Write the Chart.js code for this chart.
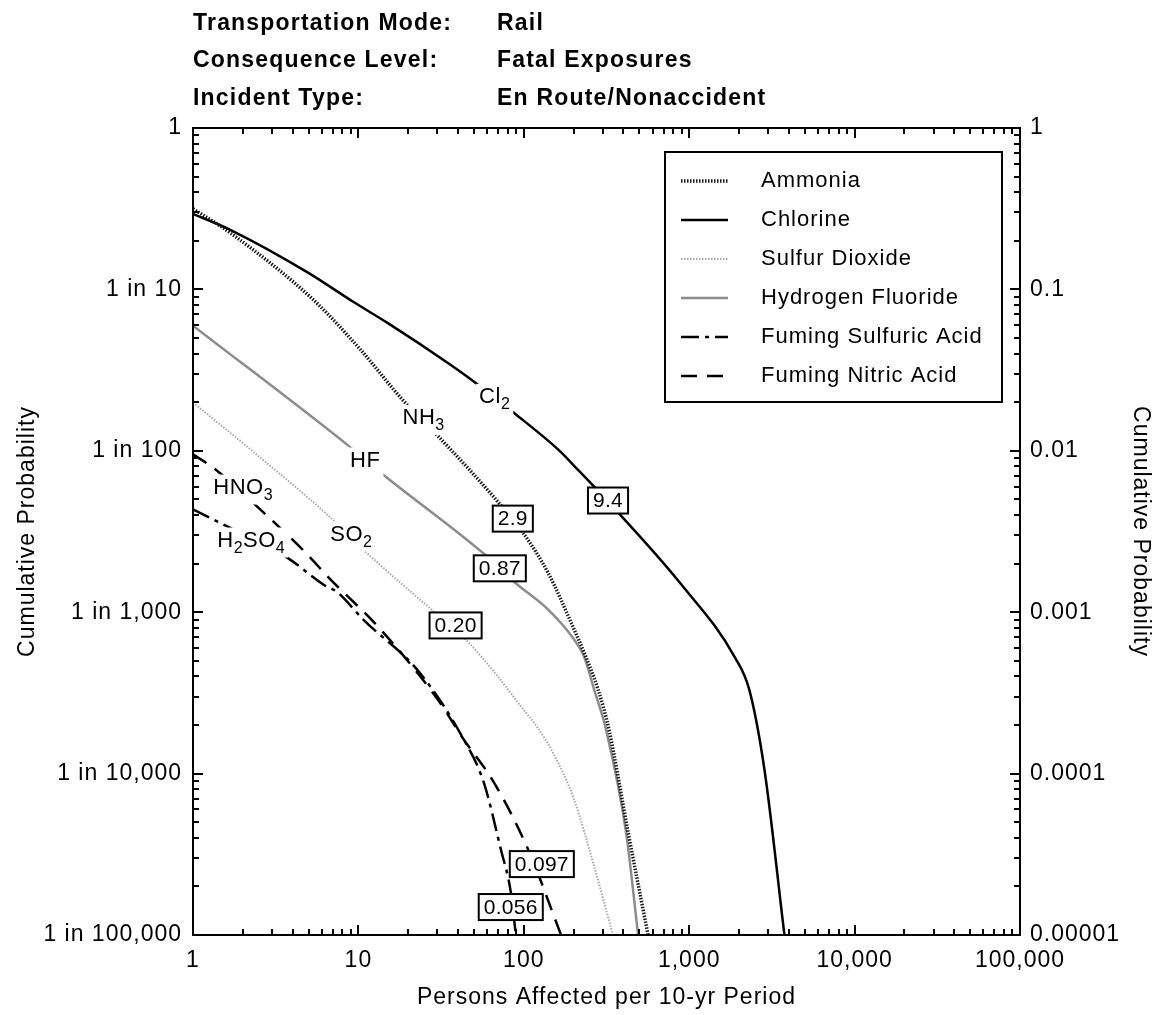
<!DOCTYPE html>
<html>
<head>
<meta charset="utf-8">
<title>Rail - Fatal Exposures</title>
<script src="https://cdn.jsdelivr.net/npm/chart.js@4.4.0/dist/chart.umd.min.js"></script>
<style>
  body { margin: 0; background: #fff; }
  .wrap { position: relative; width: 1160px; height: 1015px; }
  .head { position: absolute; font: bold 23px "Liberation Sans", Arial, sans-serif; color: #000; line-height: 26px; white-space: nowrap; letter-spacing: 1.2px; }
</style>
</head>
<body>
<div class="wrap">
  <canvas id="myChart" width="1160" height="1015"></canvas>
  <div class="head" style="left:193px;top:9px">Transportation Mode:</div>
  <div class="head" style="left:497px;top:9px">Rail</div>
  <div class="head" style="left:193px;top:46px">Consequence Level:</div>
  <div class="head" style="left:497px;top:46px">Fatal Exposures</div>
  <div class="head" style="left:193px;top:84px">Incident Type:</div>
  <div class="head" style="left:497px;top:84px">En Route/Nonaccident</div>
</div>
<script>
// persons affected (x) and cumulative probability (y) for each material
const ammoniaX = [1, 1.68, 5.34, 10.3, 18.5, 30.5, 69.5, 98.6, 140, 193, 231, 281, 327, 427, 564];
const ammoniaP = [0.316, 0.224, 0.0862, 0.0423, 0.0207, 0.01225, 0.00485, 0.00312, 0.00176, 8.65e-4, 5.64e-4, 3.33e-4, 1.88e-4, 4.34e-5, 1e-5];

const chlorineX = [1, 1.68, 4.9, 9.3, 15, 34.6, 51, 87, 161, 212, 323, 894, 1900, 2310, 2850, 3765];
const chlorineP = [0.294, 0.234, 0.128, 0.0838, 0.062, 0.0351, 0.0264, 0.0172, 0.0102, 0.00765, 0.00485, 0.00149, 5.2e-4, 3.3e-4, 1.06e-4, 1e-5];

const so2X = [1, 2.15, 6.77, 11, 28.5, 43.3, 69.6, 96, 118, 150, 201, 266, 346];
const so2P = [0.0199, 0.0105, 0.00386, 0.00238, 0.00101, 6.98e-4, 4.0e-4, 2.61e-4, 2.0e-4, 1.35e-4, 6.95e-5, 2.67e-5, 1e-5];

const hfX = [1, 8.95, 13.6, 70.5, 87, 140, 201, 231, 266, 314, 415, 491];
const hfP = [0.0596, 0.0105, 0.00733, 0.00192, 0.00155, 0.00104, 6.79e-4, 5.33e-4, 3.33e-4, 1.88e-4, 4.34e-5, 1e-5];

const sulfuricX = [1, 1.61, 3.71, 6.1, 7.46, 10.7, 23.1, 43.3, 57.2, 72.6, 83.4, 89.5];
const sulfuricP = [0.00433, 0.0034, 0.00218, 0.00149, 0.00133, 9.0e-4, 4.3e-4, 1.63e-4, 8.85e-5, 3.4e-5, 1.85e-5, 1e-5];

const nitricX = [1, 1.32, 2.48, 4.91, 6.49, 13.6, 30.1, 43.3, 65.8, 106, 168];
const nitricP = [0.0095, 0.00787, 0.00445, 0.00228, 0.00167, 7.83e-4, 2.89e-4, 1.63e-4, 8.85e-5, 3.4e-5, 1e-5];

const seriesNames = ['Ammonia', 'Chlorine', 'Sulfur Dioxide', 'Hydrogen Fluoride', 'Fuming Sulfuric Acid', 'Fuming Nitric Acid'];

// boxed mean values sitting on the curves
const valueLabels = ['9.4', '2.9', '0.87', '0.20', '0.097', '0.056'];
const valueX = [323, 85.8, 71.6, 38.7, 128.5, 83.4];
const valueP = [0.00492, 0.0038, 0.00187, 8.28e-4, 2.75e-5, 1.49e-5];

// formula labels: even parts normal, odd parts subscript
const nameParts = [['Cl', '2'], ['NH', '3'], ['HF'], ['SO', '2'], ['HNO', '3'], ['H', '2', 'SO', '4']];
const nameX = [66.7, 24.8, 11.0, 9.07, 2.01, 2.25];
const nameP = [0.0216, 0.0160, 0.0087, 0.00303, 0.00592, 0.00278];

// axis ticks
const xTicks = [1, 10, 100, 1000, 10000, 100000];
const xTickLabels = ['1', '10', '100', '1,000', '10,000', '100,000'];
const yTicks = [1e-5, 1e-4, 1e-3, 0.01, 0.1, 1];
const yTickLabels = ['1 in 100,000', '1 in 10,000', '1 in 1,000', '1 in 100', '1 in 10', '1'];
const y2TickLabels = ['0.00001', '0.0001', '0.001', '0.01', '0.1', '1'];

const FONT = '"Liberation Sans", Arial, sans-serif';
Chart.defaults.font.family = FONT;
Chart.defaults.color = '#000';

function pts(xs, ps) {
	return xs.map((v, i) => ({ x: v, y: ps[i] }));
}

const styles = [
	{ color: '#1a1a1a', width: 3.5, dash: [1.5, 1.5] },
	{ color: '#000', width: 2.5, dash: [] },
	{ color: '#a8a8a8', width: 2, dash: [1.5, 1.5] },
	{ color: '#8c8c8c', width: 2.5, dash: [] },
	{ color: '#000', width: 2.5, dash: [18, 6, 4, 6] },
	{ color: '#000', width: 2.5, dash: [16, 10] }
];
const allData = [
	pts(ammoniaX, ammoniaP), pts(chlorineX, chlorineP), pts(so2X, so2P),
	pts(hfX, hfP), pts(sulfuricX, sulfuricP), pts(nitricX, nitricP)
];

function drawChem(ctx, parts, cx, cy) {
	const big = '22px ' + FONT, small = '16px ' + FONT;
	let total = 0;
	const widths = parts.map((p, i) => {
		ctx.font = i % 2 ? small : big;
		const w = ctx.measureText(p).width;
		total += w;
		return w;
	});
	let sx = cx - total / 2;
	ctx.fillStyle = '#fff';
	ctx.fillRect(sx - 3, cy - 13, total + 6, 30);
	ctx.fillStyle = '#000';
	ctx.textAlign = 'left';
	ctx.textBaseline = 'middle';
	parts.forEach((p, i) => {
		ctx.font = i % 2 ? small : big;
		ctx.fillText(p, sx, i % 2 ? cy + 8 : cy);
		sx += widths[i];
	});
}

const decor = {
	id: 'decor',
	beforeDraw(chart) {
		// the axis text in this figure runs wide
		chart.ctx.letterSpacing = '1px';
	},
	afterDatasetsDraw(chart) {
		const ctx = chart.ctx;
		const xs = chart.scales.x, ys = chart.scales.y;
		const { left, right, top, bottom } = chart.chartArea;
		ctx.save();

		// formula labels
		ctx.letterSpacing = '0.5px';
		nameParts.forEach((parts, i) => {
			drawChem(ctx, parts, xs.getPixelForValue(nameX[i]), ys.getPixelForValue(nameP[i]));
		});

		// boxed values
		ctx.letterSpacing = '0.3px';
		ctx.font = '21px ' + FONT;
		valueLabels.forEach((t, i) => {
			const cx = xs.getPixelForValue(valueX[i]);
			const cy = ys.getPixelForValue(valueP[i]);
			const w = ctx.measureText(t).width + 10;
			const h = 26;
			ctx.fillStyle = '#fff';
			ctx.fillRect(cx - w / 2, cy - h / 2, w, h);
			ctx.setLineDash([]);
			ctx.lineWidth = 2;
			ctx.strokeStyle = '#000';
			ctx.strokeRect(cx - w / 2, cy - h / 2, w, h);
			ctx.fillStyle = '#000';
			ctx.textAlign = 'center';
			ctx.textBaseline = 'middle';
			ctx.fillText(t, cx, cy + 1);
		});

		// legend
		ctx.letterSpacing = '1px';
		ctx.fillStyle = '#fff';
		ctx.fillRect(665, 152, 337, 250);
		ctx.lineWidth = 2;
		ctx.strokeStyle = '#000';
		ctx.setLineDash([]);
		ctx.strokeRect(665, 152, 337, 250);
		chart.data.datasets.forEach((ds, i) => {
			const ly = 181 + i * 39;
			ctx.beginPath();
			ctx.setLineDash(ds.borderDash);
			ctx.lineWidth = ds.borderWidth;
			ctx.strokeStyle = ds.borderColor;
			ctx.moveTo(681, ly);
			ctx.lineTo(728, ly);
			ctx.stroke();
			ctx.setLineDash([]);
			ctx.fillStyle = '#000';
			ctx.font = '22px ' + FONT;
			ctx.textAlign = 'left';
			ctx.textBaseline = 'middle';
			ctx.fillText(ds.label, 761, ly);
		});

		// frame with inward ticks on all four sides
		ctx.setLineDash([]);
		ctx.strokeStyle = '#000';
		ctx.lineWidth = 2;
		ctx.strokeRect(left, top, right - left, bottom - top);
		ctx.beginPath();
		for (let d = 1; d <= 100000; d *= 10) {
			for (let k = 1; k <= 9; k++) {
				const v = d * k;
				if (v > 100000) break;
				const px = Math.round(xs.getPixelForValue(v));
				const len = k === 1 ? 10 : 6;
				ctx.moveTo(px, bottom); ctx.lineTo(px, bottom - len);
				ctx.moveTo(px, top); ctx.lineTo(px, top + len);
			}
		}
		for (let d = 1e-5; d <= 1.0001; d *= 10) {
			for (let k = 1; k <= 9; k++) {
				const v = d * k;
				if (v > 1.0001) break;
				const py = Math.round(ys.getPixelForValue(v));
				const len = k === 1 ? 10 : 6;
				ctx.moveTo(left, py); ctx.lineTo(left + len, py);
				ctx.moveTo(right, py); ctx.lineTo(right - len, py);
			}
		}
		ctx.stroke();
		ctx.restore();
	}
};

const ctx = document.getElementById('myChart').getContext('2d');
const myChart = new Chart(ctx, {
	type: 'line',
	data: {
		datasets: seriesNames.map((name, i) => ({
			label: name,
			data: allData[i],
			borderColor: styles[i].color,
			borderWidth: styles[i].width,
			borderDash: styles[i].dash,
			pointRadius: 0,
			fill: false,
			cubicInterpolationMode: 'monotone',
			yAxisID: 'y'
		}))
	},
	options: {
		responsive: false,
		animation: false,
		layout: { padding: { top: 128, left: 0, right: 0, bottom: 0 } },
		plugins: { legend: { display: false }, tooltip: { enabled: false } },
		scales: {
			x: {
				type: 'logarithmic',
				min: 1, max: 100000,
				grid: { display: false, drawTicks: false },
				border: { display: false },
				afterBuildTicks: s => { s.ticks = xTicks.map(v => ({ value: v })); },
				afterFit: s => { s.height = 80; },
				ticks: {
					autoSkip: false, maxRotation: 0, padding: 12,
					font: { size: 23 },
					callback: (v, i) => xTickLabels[i]
				},
				title: { display: true, text: 'Persons Affected per 10-yr Period', font: { size: 23 }, padding: { top: 0, bottom: 4 } }
			},
			y: {
				type: 'logarithmic',
				position: 'left',
				min: 1e-5, max: 1,
				grid: { display: false, drawTicks: false },
				border: { display: false },
				afterBuildTicks: s => { s.ticks = yTicks.map(v => ({ value: v })); },
				afterFit: s => { s.width = 193; },
				ticks: {
					autoSkip: false, padding: 11,
					font: { size: 23 },
					callback: (v, i) => yTickLabels[i]
				},
				title: { display: true, text: 'Cumulative Probability', font: { size: 23 }, padding: { top: 14, bottom: 0 } }
			},
			y2: {
				type: 'logarithmic',
				position: 'right',
				min: 1e-5, max: 1,
				grid: { display: false, drawTicks: false },
				border: { display: false },
				afterBuildTicks: s => { s.ticks = yTicks.map(v => ({ value: v })); },
				afterFit: s => { s.width = 140; },
				ticks: {
					autoSkip: false, padding: 10,
					font: { size: 23 },
					callback: (v, i) => y2TickLabels[i]
				},
				title: { display: true, text: 'Cumulative Probability', font: { size: 23 }, padding: { top: 6, bottom: 0 } }
			}
		}
	},
	plugins: [decor]
});
</script>
</body>
</html>
